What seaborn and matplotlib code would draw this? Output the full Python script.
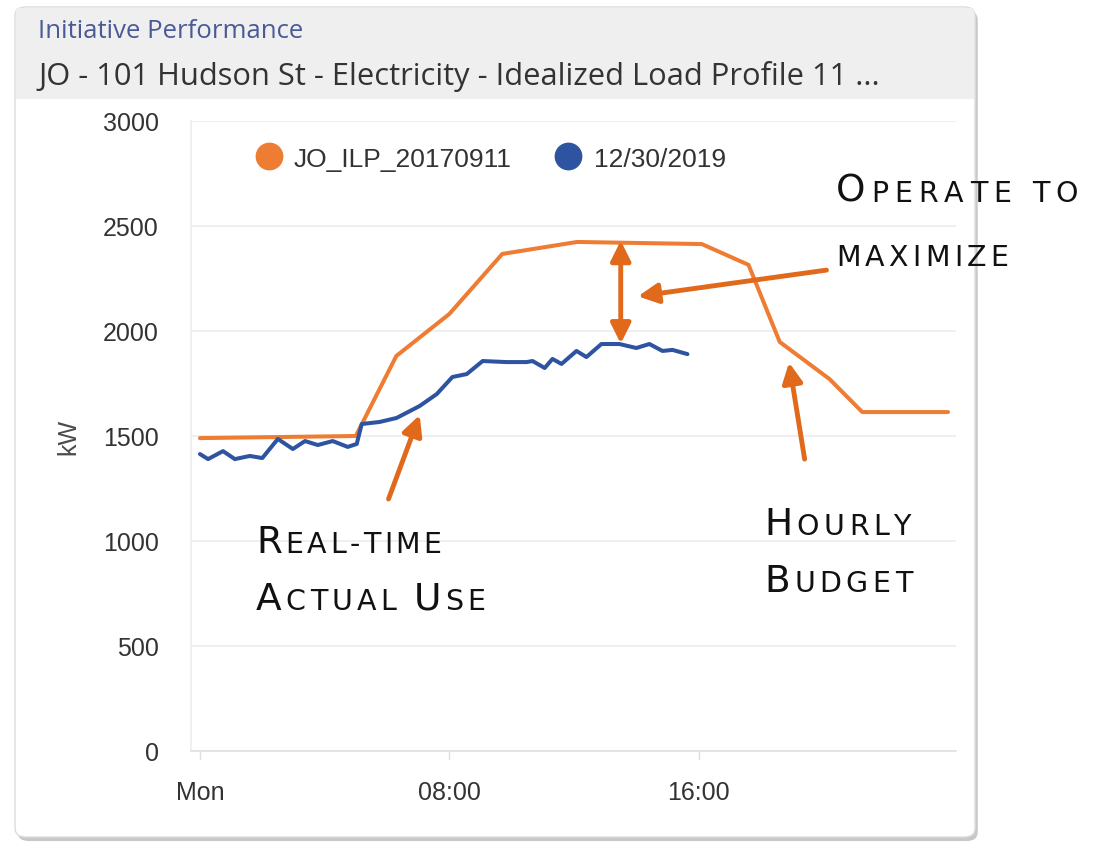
import numpy as np
import pandas as pd
import seaborn as sns
import matplotlib.pyplot as plt
from matplotlib.lines import Line2D
from matplotlib.patches import FancyBboxPatch, Rectangle
from matplotlib.offsetbox import TextArea, HPacker, AnnotationBbox

# Dados
horas_orcamento = [0.0, 5.0, 6.3, 8.0, 9.7, 12.1, 16.1, 17.6, 18.6, 20.2, 21.25, 24.0]
kw_orcamento = [1490, 1500, 1881, 2081, 2367, 2424, 2414, 2315, 1948, 1771, 1614, 1614]

horas_real = [0.0, 0.26, 0.74, 1.12, 1.6, 2.0, 2.5, 2.98, 3.37, 3.78, 4.26, 4.74, 5.03,
              5.19, 5.77, 6.31, 7.05, 7.6, 8.1, 8.56, 9.07, 9.84, 10.48, 10.67, 11.06,
              11.31, 11.6, 12.08, 12.4, 12.88, 13.46, 14.0, 14.42, 14.84, 15.16, 15.64]
kw_real = [1414, 1390, 1428, 1390, 1405, 1395, 1486, 1438, 1476, 1457, 1476, 1448, 1462,
           1557, 1567, 1586, 1643, 1700, 1781, 1795, 1857, 1852, 1852, 1857, 1824,
           1867, 1843, 1905, 1876, 1938, 1938, 1919, 1938, 1905, 1910, 1890]

serie_orcamento = "JO_ILP_20170911"
serie_real = "12/30/2019"
ticks_x = [0, 8, 16]
rotulos_x = ["Mon", "08:00", "16:00"]
ticks_y = [0, 500, 1000, 1500, 2000, 2500, 3000]

laranja = "#EE7D33"
azul = "#2E54A1"
seta = "#E0691C"

sns.set_theme(style="white")
plt.rcParams["font.family"] = ["Liberation Sans", "DejaVu Sans"]

fig = plt.figure(figsize=(11.06, 8.54), dpi=100)

# cartão com cabeçalho cinza
sombra = FancyBboxPatch((0.016, 0.014), 0.868, 0.972, boxstyle="round,pad=0,rounding_size=0.01",
                        transform=fig.transFigure, facecolor="#c8c8c8", edgecolor="none", zorder=0)
cartao = FancyBboxPatch((0.0136, 0.0187), 0.868, 0.972, boxstyle="round,pad=0,rounding_size=0.01",
                        transform=fig.transFigure, facecolor="white", edgecolor="#dcdcdc", lw=1, zorder=0)
cabecalho = Rectangle((0.0145, 0.8829), 0.8662, 0.106, transform=fig.transFigure,
                      facecolor="#efefef", edgecolor="none", zorder=0)
fig.patches.extend([sombra, cartao, cabecalho])

fig.text(38/1106, 1-32/854, "Initiative Performance", family=["Open Sans", "DejaVu Sans"],
         fontsize=18.5, color="#4a5a96", va="center", ha="left")
fig.text(38/1106, 1-77/854, "JO - 101 Hudson St - Electricity - Idealized Load Profile 11 ...",
         family=["Open Sans", "DejaVu Sans"], fontsize=22.2, color="#333333", va="center", ha="left")

ax = fig.add_axes([190.6/1106, 1-752/854, (955.8-190.6)/1106, (752-122)/854])
ax.set_zorder(2)
ax.patch.set_alpha(0)

df_orc = pd.DataFrame({"hora": horas_orcamento, "kW": kw_orcamento})
df_real = pd.DataFrame({"hora": horas_real, "kW": kw_real})
sns.lineplot(data=df_orc, x="hora", y="kW", color=laranja, lw=2.9, ax=ax, zorder=3)
sns.lineplot(data=df_real, x="hora", y="kW", color=azul, lw=2.9, ax=ax, zorder=4)

ax.set_xlim(-0.3, 24.25)
ax.set_ylim(0, 3000)
ax.set_xticks(ticks_x)
ax.set_xticklabels(rotulos_x)
ax.set_yticks(ticks_y)
ax.tick_params(axis="both", labelsize=18, colors="#333333", length=0)
ax.tick_params(axis="y", pad=23)
ax.tick_params(axis="x", pad=21)
ax.set_xlabel("")
ax.set_ylabel("kW", fontsize=18, color="#4a4a4a", labelpad=16)
ax.grid(axis="y", color="#ececec", lw=1.2)
for lado in ["top", "right"]:
    ax.spines[lado].set_visible(False)
ax.spines["left"].set_color("#eeeeee")
ax.spines["bottom"].set_color("#e2e2e2")
for t in ticks_x:
    ax.plot([t, t], [0, -40], color="#e0e0e0", lw=1, clip_on=False)

handles = [Line2D([], [], marker="o", ls="", color=laranja, markersize=19),
           Line2D([], [], marker="o", ls="", color=azul, markersize=19)]
ax.legend(handles, [serie_orcamento, serie_real], ncol=2, frameon=False, fontsize=19,
          loc="upper left", bbox_to_anchor=(0.047, 0.997), handletextpad=0.25, columnspacing=1.45,
          handlelength=1.4, labelcolor="#333333")

# setas
estilo = dict(color=seta, lw=3.5, mutation_scale=30, shrinkA=0, shrinkB=0)
ax.annotate("", xy=(13.5, 2430), xytext=(13.5, 1940), arrowprops=dict(arrowstyle="<|-|>", **estilo))
ax.annotate("", xy=(14.05, 2165), xytext=(20.1, 2290), arrowprops=dict(arrowstyle="-|>", **estilo))
ax.annotate("", xy=(7.05, 1600), xytext=(6.05, 1200), arrowprops=dict(arrowstyle="-|>", **estilo))
ax.annotate("", xy=(18.9, 1850), xytext=(19.4, 1390), arrowprops=dict(arrowstyle="-|>", **estilo))


# texto em versalete, letra a letra para espaçar
def versalete(partes, x, y, sep=3.2):
    caixas = []
    for texto, grande in partes:
        for letra in texto:
            caixas.append(TextArea(letra, textprops=dict(fontsize=27 if grande else 20.5, color="#111111",
                                                         family=["DejaVu Sans"], fontweight="normal")))
    pacote = HPacker(children=caixas, align="baseline", pad=0, sep=sep)
    ab = AnnotationBbox(pacote, (x/1106, 1-y/854), xycoords="figure fraction", frameon=False,
                        box_alignment=(0, 0), pad=0, annotation_clip=False)
    ab.set_zorder(5)
    fig.add_artist(ab)


versalete([("O", True), ("PERATE TO", False)], 836, 210, sep=4.3)
versalete([("MAXIMIZE", False)], 836, 272, sep=3.1)
versalete([("R", True), ("EAL-TIME", False)], 256, 561, sep=2.5)
versalete([("A", True), ("CTUAL ", False), ("U", True), ("SE", False)], 256, 618, sep=3.0)
versalete([("H", True), ("OURLY", False)], 764, 543)
versalete([("B", True), ("UDGET", False)], 764, 600)

fig.savefig("out.png", dpi=100)
